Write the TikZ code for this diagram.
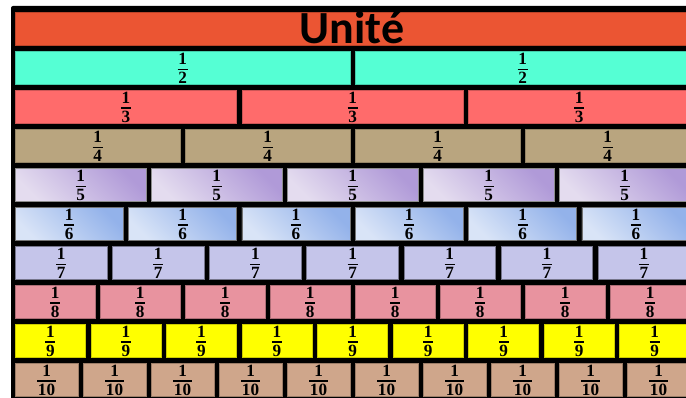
\documentclass[tikz,border=0pt]{standalone}
\usepackage{fontspec}
\newfontfamily\titlefont{Carlito}
\newfontfamily\fracfont{Liberation Serif}
\definecolor{cunite}{HTML}{EB5533}
\definecolor{c2}{HTML}{55FFD4}
\definecolor{c3}{HTML}{FF6B6B}
\definecolor{c4}{HTML}{B9A57F}
\definecolor{c5top}{HTML}{B09AD8}
\definecolor{c5bot}{HTML}{E4DCEF}
\definecolor{c6top}{HTML}{93B2EA}
\definecolor{c6bot}{HTML}{D9E4F7}
\definecolor{c7}{HTML}{C5C5EA}
\definecolor{c8}{HTML}{E8939F}
\definecolor{c9}{HTML}{FFFF00}
\definecolor{c10}{HTML}{CFA68B}
\newcommand\fr[1]{\setbox0\hbox{#1}\vbox{\offinterlineskip\kern1.5pt\halign{\hfil##\hfil\cr 1\cr\noalign{\kern3.8pt}\vrule width\dimexpr\wd0+1.5pt\relax height1.4pt\cr\noalign{\kern2.4pt}\box0\cr}}}
\tikzset{
  cell/.style={rectangle, inner sep=0pt, minimum height=33pt, anchor=north west,
    line width=0.6pt, font=\fracfont\bfseries\fontsize{17.2}{20}\selectfont},
  row2/.style={fill=c2, draw=c2!80!black},
  row3/.style={fill=c3, draw=c3!80!black},
  row4/.style={fill=c4, draw=c4!80!black},
  row5/.style={top color=c5top, bottom color=c5bot, shading angle=-45, draw=black!45},
  row6/.style={top color=c6top, bottom color=c6bot, shading angle=-45, draw=black!55},
  row7/.style={fill=c7, draw=c7!60!black},
  row8/.style={fill=c8, draw=c8!75!black},
  row9/.style={fill=c9, draw=c9!80!black},
  row10/.style={fill=c10, draw=c10!75!black},
  titletext/.style={anchor=base, inner sep=0pt, font=\titlefont\bfseries\fontsize{46}{50}\selectfont}
}
\begin{document}
\begin{tikzpicture}[x=1pt,y=-1pt]
\useasboundingbox (0,0) rectangle (686,398);
\clip (0,0) rectangle (686,398);
\fill[black, rounded corners=2pt] (11,6) rectangle (720,430);
\node[cell, fill=cunite, draw=cunite!80!black, minimum width=700pt] (unite) at (15,12) {};
\node[titletext] (title) at (352,44) {Unité};
\foreach \n in {2,...,10} {
  \pgfmathsetmacro\PP{680/\n}
  \pgfmathsetmacro\WW{680/\n-5.5}
  \pgfmathtruncatemacro\last{\n-1}
  \foreach \i in {0,...,\last} {
    \node[cell, row\n, minimum width=\WW pt] (b\n-\i) at ({15+\i*\PP},{51+39*(\n-2)}) {\fr{\n}};
  }
}
\end{tikzpicture}
\end{document}
